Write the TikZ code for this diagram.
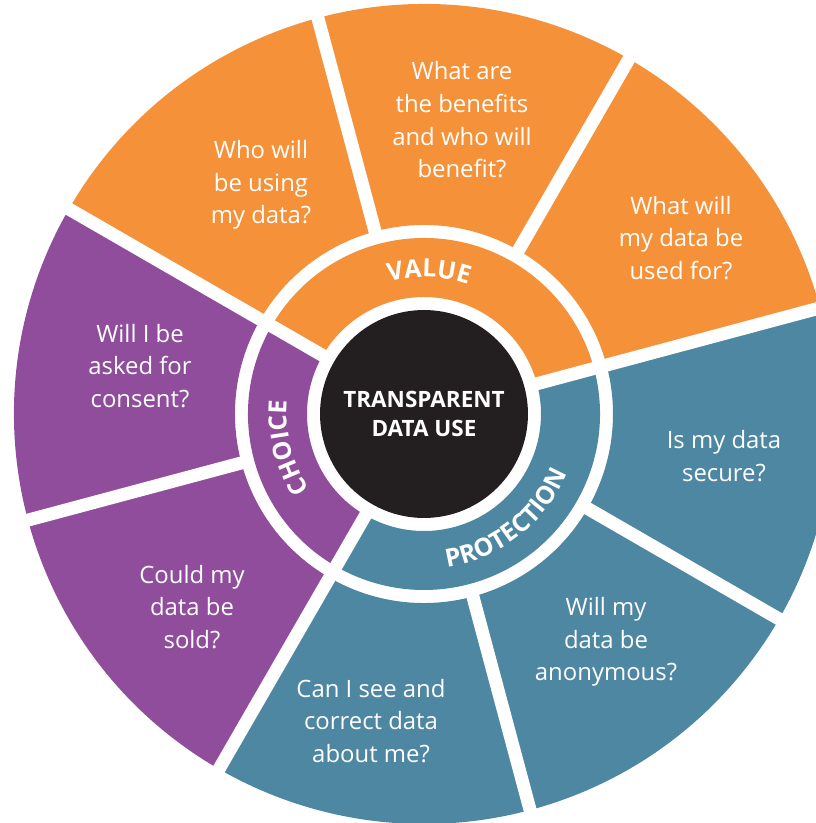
\documentclass[tikz,border=0pt]{standalone}
\usepackage{fontspec}
\setmainfont{Open Sans}
\setsansfont{Open Sans}
\usepackage{tikz}
\usetikzlibrary{decorations.text}
\definecolor{valueorange}{RGB}{245, 145, 56}
\definecolor{choicepurple}{RGB}{143, 77, 156}
\definecolor{protectblue}{RGB}{78, 135, 162}
\definecolor{hubblack}{RGB}{35, 31, 32}

\begin{document}
\begin{tikzpicture}[
    x=0.02cm, y=0.02cm,
    question/.style={align=center, text=white, font=\fontsize{13.6}{18.6}\selectfont},
    hub/.style={circle, fill=hubblack, inner sep=0pt, minimum size=4.16cm, align=center, text=white, font=\bfseries\fontsize{12.8}{17}\selectfont},
    gap/.style={white, line width=0.26cm},
    ringtext/.style={decorate, decoration={text along path, text align=center, text={|\color{white}\bfseries\fontsize{14.2}{14.2}\selectfont|#1}}}
]

% Frame of the picture
\useasboundingbox (-424,-409) rectangle (392,414);
\fill[white] (-424,-409) rectangle (392,414);
\clip (-424,-409) rectangle (392,414);

% Outer and inner rings
\foreach \a/\b/\c in {15/150/valueorange, 150/240/choicepurple, 240/375/protectblue} {
  \fill[\c] (\a:189) arc[start angle=\a, end angle=\b, radius=189] -- (\b:410) arc[start angle=\b, end angle=\a, radius=410] -- cycle;
  \fill[\c] (\a:117) arc[start angle=\a, end angle=\b, radius=117] -- (\b:176) arc[start angle=\b, end angle=\a, radius=176] -- cycle;
}

% White gaps between the segments
\foreach \a in {15,150,240} \draw[gap] (0,0) -- (\a:420);
\foreach \a in {60,105,195,285,330} \draw[gap] (\a:180) -- (\a:420);

% Centre
\node[hub] (hub) at (0,0) {TRANSPARENT\\DATA USE};

% Ring labels
\path[ringtext=VALUE] (118:137) arc[start angle=118, end angle=58, radius=137];
\path[ringtext=CHOICE] (234:137) arc[start angle=234, end angle=154, radius=137];
\path[ringtext=PROTECTION] (-97:155) arc[start angle=-97, end angle=-7, radius=155];

% Value questions
\node[question] (users) at (-163,229) {Who will\\be using\\my data?};
\node[question] (benefits) at (38,294) {What are\\the benefits\\and who will\\benefit?};
\node[question] (purpose) at (257,176) {What will\\my data be\\used for?};

% Protection questions
\node[question] (secure) at (300,-42) {Is my data\\secure?};
\node[question] (anonymous) at (182,-228) {Will my\\data be\\anonymous?};
\node[question] (correct) at (-53,-307) {Can I see and\\correct data\\about me?};

% Choice questions
\node[question] (sold) at (-232,-193) {Could my\\data be\\sold?};
\node[question] (consent) at (-284,48) {Will I be\\asked for\\consent?};

\end{tikzpicture}
\end{document}
